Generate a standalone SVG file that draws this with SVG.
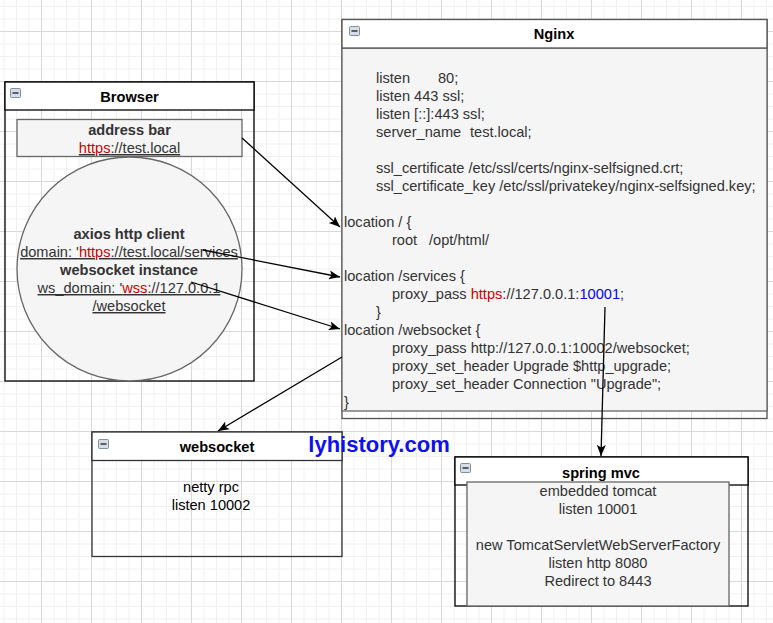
<svg xmlns="http://www.w3.org/2000/svg" width="773" height="623" viewBox="0 0 773 623">
<style>
text{font-family:"Liberation Sans",Arial,Helvetica,sans-serif;font-size:14.6px;fill:#333}
.t{font-weight:bold;fill:#000;text-anchor:middle}
.c{text-anchor:middle}
.b{font-weight:bold}
.red{fill:#cc0000}
.blue{fill:#0000ff}
.u{text-decoration:underline}
.lane{fill:none;stroke:#000;stroke-width:1.3}
.hdr{fill:#fff;stroke:#000;stroke-width:1.3}
.gray{fill:#f5f5f5;stroke:#666;stroke-width:1.3}
.ico{fill:#d6dde6;stroke:#7f8fa0;stroke-width:1}
.icl{stroke:#333;stroke-width:1.5}
.edge{fill:none;stroke:#000;stroke-width:1.3}
</style>
<defs>
<pattern id="grid" patternUnits="userSpaceOnUse" x="41" y="31" width="50" height="50">
<path d="M13 0V50M25.5 0V50M38 0V50M0 13H50M0 25.5H50M0 38H50" stroke="#f0f0f0" stroke-width="1" fill="none"/>
<path d="M0.5 0V50M0 0.5H50" stroke="#d8d8d8" stroke-width="1" fill="none"/>
</pattern>
<marker id="arr" markerUnits="userSpaceOnUse" markerWidth="12" markerHeight="12" viewBox="0 0 12 12" refX="11" refY="6" orient="auto">
<path d="M0,1.5 L11,6 L0,10.5 L2.5,6 Z" fill="#000"/>
</marker>
</defs>
<rect width="773" height="623" fill="#fff"/>
<rect width="773" height="623" fill="url(#grid)"/>

<g id="browser">
<rect class="lane" x="5" y="82" width="249" height="299"/>
<rect class="hdr" x="5" y="82" width="249" height="28"/>
<rect class="ico" x="10.5" y="88.5" width="10" height="9" rx="1"/>
<line class="icl" x1="12.5" y1="93" x2="18.5" y2="93"/>
<text class="t" x="129.5" y="102">Browser</text>
</g>

<g id="address-bar">
<rect class="gray" x="17" y="119.5" width="225" height="37"/>
<text class="c b" x="129.5" y="135">address bar</text>
<text class="c u" x="129.5" y="153"><tspan class="red">https</tspan>://test.local</text>
</g>

<g id="client">
<ellipse class="gray" cx="129.5" cy="269" rx="112.5" ry="112"/>
<text class="c b" x="129" y="239">axios http client</text>
<text class="c u" x="129" y="257">domain: '<tspan class="red">https</tspan>://test.local/services</text>
<text class="c b" x="129" y="275">websocket instance</text>
<text class="c u" x="129" y="293">ws_domain: '<tspan class="red">wss</tspan>://127.0.0.1</text>
<text class="c u" x="129" y="311">/websocket</text>
</g>

<g id="nginx">
<rect class="lane" x="342" y="19.5" width="425" height="399" style="stroke:#555"/>
<rect class="gray" x="342" y="48" width="425" height="363"/>
<rect class="hdr" x="342" y="19.5" width="425" height="28.5" style="stroke:#555"/>
<rect class="ico" x="349.5" y="26.5" width="10" height="9" rx="1"/>
<line class="icl" x1="351.5" y1="31" x2="357.5" y2="31"/>
<text class="t" x="554" y="39">Nginx</text>
<text x="376" y="83">listen<tspan x="438">80;</tspan></text>
<text x="376" y="101">listen 443 ssl;</text>
<text x="376" y="119">listen [::]:443 ssl;</text>
<text x="376" y="137">server_name<tspan x="470">test.local;</tspan></text>
<text x="376" y="173">ssl_certificate /etc/ssl/certs/nginx-selfsigned.crt;</text>
<text x="376" y="191">ssl_certificate_key /etc/ssl/privatekey/nginx-selfsigned.key;</text>
<text x="344" y="227">location / {</text>
<text x="392" y="245">root<tspan x="429">/opt/html/</tspan></text>
<text x="344" y="281">location /services {</text>
<text x="392" y="299">proxy_pass <tspan class="red">https</tspan>://127.0.0.1:<tspan class="blue">10001</tspan>;</text>
<text x="376" y="317">}</text>
<text x="344" y="335">location /websocket {</text>
<text x="392" y="353">proxy_pass http://127.0.0.1:10002/websocket;</text>
<text x="392" y="371">proxy_set_header Upgrade $http_upgrade;</text>
<text x="392" y="389">proxy_set_header Connection "Upgrade";</text>
<text x="344" y="407">}</text>
</g>

<g id="websocket">
<rect class="lane" x="92" y="432" width="250" height="124.5" style="stroke:#333"/>
<rect class="hdr" x="92" y="432" width="250" height="28.5" style="stroke:#333"/>
<rect class="ico" x="98.5" y="439.5" width="10" height="9" rx="1"/>
<line class="icl" x1="100.5" y1="444" x2="106.5" y2="444"/>
<text class="t" x="217" y="452">websocket</text>
<text class="c" x="211" y="492" style="fill:#000">netty rpc</text>
<text class="c" x="211" y="510" style="fill:#000">listen 10002</text>
</g>

<g id="watermark">
<text x="379" y="452" style="font-size:22px;font-weight:bold;fill:#1010ee;text-anchor:middle">lyhistory.com</text>
</g>

<g id="spring-mvc">
<rect class="lane" x="455" y="457" width="293" height="149"/>
<rect class="hdr" x="455" y="457" width="293" height="28"/>
<rect class="ico" x="460.5" y="463.5" width="10" height="9" rx="1"/>
<line class="icl" x1="462.5" y1="468" x2="468.5" y2="468"/>
<text class="t" x="601" y="478">spring mvc</text>
<rect class="gray" x="467" y="482" width="262" height="124"/>
<text class="c" x="598" y="496">embedded tomcat</text>
<text class="c" x="598" y="514">listen 10001</text>
<text class="c" x="598" y="550">new TomcatServletWebServerFactory</text>
<text class="c" x="598" y="568">listen http 8080</text>
<text class="c" x="598" y="586">Redirect to 8443</text>
</g>

<g id="connectors">
<line class="edge" x1="242" y1="138" x2="340" y2="227" marker-end="url(#arr)"/>
<line class="edge" x1="203" y1="250" x2="340" y2="277" marker-end="url(#arr)"/>
<line class="edge" x1="191" y1="282" x2="340" y2="329" marker-end="url(#arr)"/>
<line class="edge" x1="342" y1="357" x2="218" y2="431" marker-end="url(#arr)"/>
<line class="edge" x1="605" y1="307" x2="601" y2="456" marker-end="url(#arr)"/>
</g>
</svg>
